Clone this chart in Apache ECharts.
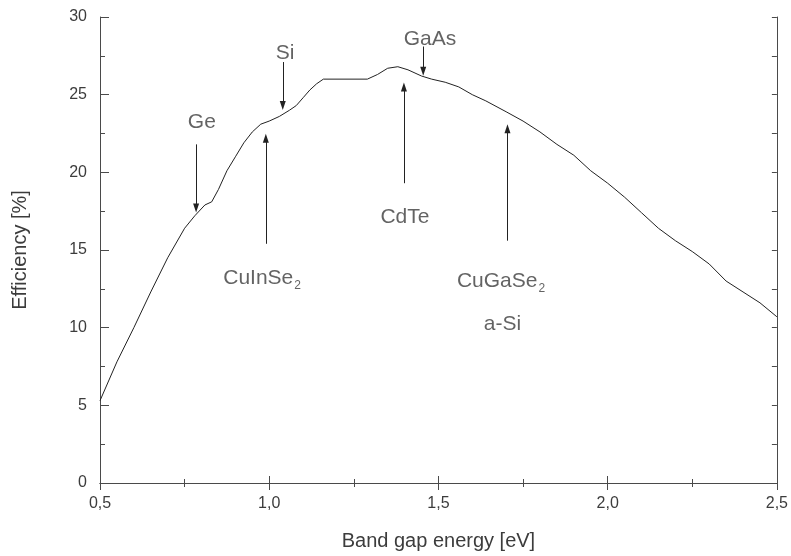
<!DOCTYPE html>
<html>
<head>
<meta charset="utf-8">
<script src="https://cdn.jsdelivr.net/npm/echarts@6/dist/echarts.min.js"></script>
<style>
  html, body { margin: 0; padding: 0; background: #fff; }
  #chart { width: 791px; height: 556px; }
</style>
</head>
<body>
<div id="chart"></div>
<script>
// band gap (eV) vs efficiency (%)
const bandGap = [0.50, 0.55, 0.60, 0.65, 0.70, 0.75, 0.78, 0.81, 0.83, 0.85, 0.875, 0.90, 0.925, 0.95, 0.975,
  1.00, 1.03, 1.06, 1.08, 1.10, 1.12, 1.14, 1.16, 1.29, 1.32, 1.35, 1.38, 1.41, 1.45, 1.48,
  1.52, 1.56, 1.60, 1.64, 1.70, 1.75, 1.80, 1.85, 1.90, 1.95, 2.00, 2.05, 2.10, 2.15, 2.20,
  2.25, 2.30, 2.35, 2.40, 2.45, 2.50]
const efficiency = [5.3, 7.8, 10.0, 12.3, 14.5, 16.4, 17.2, 17.9, 18.1, 18.9, 20.1, 21.0, 21.9, 22.6, 23.1,
  23.3, 23.6, 24.0, 24.3, 24.8, 25.3, 25.7, 26.0, 26.0, 26.3, 26.7, 26.8, 26.6, 26.2, 26.0,
  25.8, 25.5, 25.0, 24.6, 23.9, 23.3, 22.6, 21.8, 21.1, 20.1, 19.3, 18.4, 17.4, 16.4, 15.6,
  14.9, 14.1, 13.0, 12.3, 11.6, 10.7]

// material annotations
const materials = ['Ge', 'Si', 'CuInSe2', 'CdTe', 'GaAs', 'CuGaSe2', 'a-Si']
const labelX = [0.801, 1.047, 0.979, 1.401, 1.475, 1.685, 1.689]
const labelY = [23.2, 27.7, 13.2, 17.1, 28.6, 13.0, 10.2]
const arrowX = [0.784, 1.040, 0.990, 1.398, 1.455, 1.704]
const arrowFrom = [21.8, 27.1, 15.4, 19.3, 28.1, 15.6]
const arrowTo = [17.7, 24.3, 22.2, 25.5, 26.5, 22.8]

const xTicks = [0.5, 1.0, 1.5, 2.0, 2.5]

const ink = '#222'
const textColor = '#3c3c3c'
const font = 'Liberation Sans'

const chart = echarts.init(document.getElementById('chart'))

const curve = bandGap.map((x, i) => [x, efficiency[i]])
const arrows = arrowX.map((x, i) => [{ coord: [x, arrowFrom[i]] }, { coord: [x, arrowTo[i]] }])
const labels = materials.map((m, i) => [labelX[i], labelY[i], m])

const axisLine = { show: true, lineStyle: { color: '#4a4a4a', width: 1 } }

const option = {
  animation: false,
  backgroundColor: '#fff',
  grid: { left: 100, right: 14, top: 17, bottom: 70 },
  xAxis: [
    {
      type: 'value',
      min: xTicks[0],
      max: xTicks[xTicks.length - 1],
      interval: 0.5,
      name: 'Band gap energy [eV]',
      nameLocation: 'middle',
      nameGap: 48,
      nameTextStyle: { fontFamily: font, fontSize: 20, color: textColor },
      axisLine: axisLine,
      axisTick: { inside: true, length: 7, lineStyle: { color: '#4a4a4a' } },
      minorTick: { show: true, splitNumber: 2, length: 4, lineStyle: { color: '#4a4a4a' } },
      splitLine: { show: false },
      axisLabel: {
        margin: 13,
        fontFamily: font,
        fontSize: 16,
        color: textColor,
        formatter: v => v.toFixed(1).replace('.', ',')
      }
    },
    {
      type: 'value',
      position: 'top',
      min: xTicks[0],
      max: xTicks[xTicks.length - 1],
      interval: 0.5,
      axisLine: axisLine,
      axisTick: { inside: true, length: 7, lineStyle: { color: '#4a4a4a' } },
      minorTick: { show: true, splitNumber: 2, length: 4, lineStyle: { color: '#4a4a4a' } },
      splitLine: { show: false },
      axisLabel: { show: false }
    }
  ],
  yAxis: [
    {
      type: 'value',
      min: 0,
      max: 30,
      interval: 5,
      name: 'Efficiency [%]',
      nameLocation: 'middle',
      nameGap: 70,
      nameTextStyle: { fontFamily: font, fontSize: 20, color: textColor },
      axisLine: axisLine,
      axisTick: { inside: true, length: 9, lineStyle: { color: '#4a4a4a' } },
      minorTick: { show: true, splitNumber: 2, length: 5, lineStyle: { color: '#4a4a4a' } },
      splitLine: { show: false },
      axisLabel: { margin: 13, fontFamily: font, fontSize: 16, color: textColor }
    },
    {
      type: 'value',
      position: 'right',
      min: 0,
      max: 30,
      interval: 5,
      axisLine: axisLine,
      axisTick: { inside: true, length: 5, lineStyle: { color: '#4a4a4a' } },
      minorTick: { show: true, splitNumber: 2, length: 5, lineStyle: { color: '#4a4a4a' } },
      splitLine: { show: false },
      axisLabel: { show: false }
    }
  ],
  series: [
    {
      type: 'line',
      data: curve,
      showSymbol: false,
      symbol: 'none',
      lineStyle: { color: ink, width: 1 },
      markLine: {
        silent: true,
        symbol: ['none', 'triangle'],
        symbolSize: [6, 9],
        label: { show: false },
        lineStyle: { color: ink, width: 1, type: 'solid' },
        data: arrows
      }
    },
    {
      type: 'scatter',
      data: labels,
      symbolSize: 1,
      itemStyle: { color: 'rgba(0,0,0,0)' },
      silent: true,
      label: {
        show: true,
        position: 'inside',
        formatter: p => {
          const name = p.data[2]
          if (/2$/.test(name)) return '{b|' + name.slice(0, -1) + '}{s|2}'
          return '{b|' + name + '}'
        },
        rich: {
          b: { fontFamily: font, fontSize: 21, color: textColor, lineHeight: 34, verticalAlign: 'middle' },
          s: { fontFamily: font, fontSize: 12, color: textColor, lineHeight: 12, verticalAlign: 'top', padding: [19, 0, 0, 1] }
        }
      }
    }
  ]
}

chart.setOption(option)
</script>
</body>
</html>
